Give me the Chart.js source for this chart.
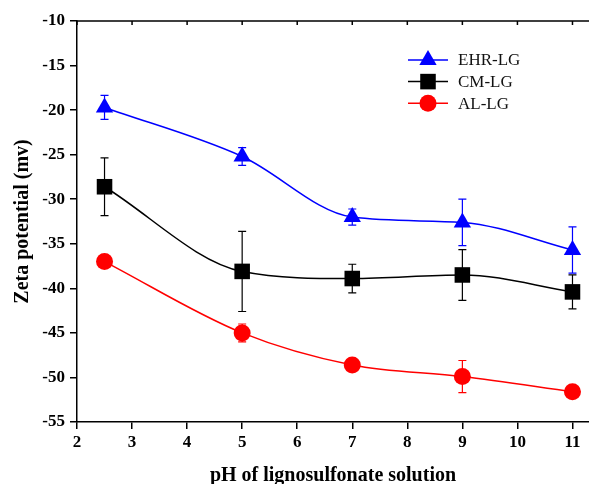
<!DOCTYPE html>
<html>
<head>
<meta charset="utf-8">
<title>Zeta potential</title>
<script src="https://cdn.jsdelivr.net/npm/chart.js@4/dist/chart.umd.min.js"></script>
<style>
  html, body { margin: 0; padding: 0; background: #fff; overflow: hidden; }
  #grafico { display: block; }
</style>
</head>
<body>
<canvas id="grafico" width="589" height="484"></canvas>
<script>
// valores
var phValores = [2.5, 5, 7, 9, 11];
var ehrLG = [-19.7, -25.2, -32.0, -32.6, -35.7];
var ehrErr = [1.35, 1.0, 0.9, 2.6, 2.6];
var cmLG = [-28.6, -38.1, -38.9, -38.5, -40.4];
var cmErr = [3.25, 4.5, 1.6, 2.85, 1.9];
var alLG = [-37.0, -45.0, -48.6, -49.9, -51.6];
var alErr = [0.3, 1.0, 0.3, 1.8, 0.3];
var xTicks = [2, 3, 4, 5, 6, 7, 8, 9, 10, 11];
var nombres = ['EHR-LG', 'CM-LG', 'AL-LG'];

var fuente = "'Liberation Serif', 'Times New Roman', serif";

function puntos(ys) {
  return phValores.map(function (x, i) { return { x: x, y: ys[i] }; });
}

// dibujar un marcador (para la leyenda)
function marcador(ctx, estilo, x, y, r, color) {
  ctx.save();
  ctx.fillStyle = color;
  ctx.beginPath();
  if (estilo === 'triangle') {
    var a = 0;
    ctx.moveTo(x + Math.sin(a) * r, y - Math.cos(a) * r);
    a += Math.PI * 2 / 3;
    ctx.lineTo(x + Math.sin(a) * r, y - Math.cos(a) * r);
    a += Math.PI * 2 / 3;
    ctx.lineTo(x + Math.sin(a) * r, y - Math.cos(a) * r);
    ctx.closePath();
  } else if (estilo === 'rect') {
    var s = Math.SQRT1_2 * r;
    ctx.rect(x - s, y - s, 2 * s, 2 * s);
  } else {
    ctx.arc(x, y, r, 0, Math.PI * 2);
  }
  ctx.fill();
  ctx.restore();
}

// barras de error
var barrasError = {
  id: 'barrasError',
  beforeDatasetsDraw: function (chart) {
    var ctx = chart.ctx;
    var xs = chart.scales.x, ys = chart.scales.y;
    chart.data.datasets.forEach(function (ds) {
      ctx.save();
      ctx.strokeStyle = ds.borderColor;
      ctx.lineWidth = 1.2;
      ds.data.forEach(function (p, j) {
        var e = ds.errores[j];
        var px = xs.getPixelForValue(p.x);
        var arriba = ys.getPixelForValue(p.y + e);
        var abajo = ys.getPixelForValue(p.y - e);
        ctx.beginPath();
        ctx.moveTo(px, arriba); ctx.lineTo(px, abajo);
        ctx.moveTo(px - 4, arriba); ctx.lineTo(px + 4, arriba);
        ctx.moveTo(px - 4, abajo); ctx.lineTo(px + 4, abajo);
        ctx.stroke();
      });
      ctx.restore();
    });
  },
  afterDraw: function (chart) {
    var ctx = chart.ctx;
    var area = chart.chartArea;
    var xs = chart.scales.x;
    // borde superior con marcas hacia adentro
    ctx.save();
    ctx.strokeStyle = '#000';
    ctx.lineWidth = 1.5;
    ctx.beginPath();
    ctx.moveTo(area.left, area.top);
    ctx.lineTo(area.right, area.top);
    xTicks.forEach(function (t) {
      var px = xs.getPixelForValue(t);
      ctx.moveTo(px, area.top);
      ctx.lineTo(px, area.top + 4);
    });
    ctx.stroke();

    // leyenda
    var x0 = area.left + 331, y0 = 60, paso = 21.6;
    chart.data.datasets.forEach(function (ds, i) {
      var y = y0 + i * paso;
      ctx.strokeStyle = ds.borderColor;
      ctx.lineWidth = 1.5;
      ctx.beginPath();
      ctx.moveTo(x0, y);
      ctx.lineTo(x0 + 40, y);
      ctx.stroke();
      marcador(ctx, ds.pointStyle, x0 + 20, y, ds.pointRadius, ds.backgroundColor);
      ctx.fillStyle = '#111';
      ctx.font = '17px ' + fuente;
      ctx.textBaseline = 'middle';
      ctx.fillText(ds.label, x0 + 50, y + 1);
    });
    ctx.restore();
  }
};

var datasets = [
  { label: nombres[0], data: puntos(ehrLG), errores: ehrErr, borderColor: '#0000ff', backgroundColor: '#0000ff', pointStyle: 'triangle', pointRadius: 10 },
  { label: nombres[1], data: puntos(cmLG), errores: cmErr, borderColor: '#000000', backgroundColor: '#000000', pointStyle: 'rect', pointRadius: 11 },
  { label: nombres[2], data: puntos(alLG), errores: alErr, borderColor: '#ff0000', backgroundColor: '#ff0000', pointStyle: 'circle', pointRadius: 8.5 }
];
datasets.forEach(function (ds) {
  ds.borderWidth = 1.5;
  ds.cubicInterpolationMode = 'monotone';
  ds.pointBorderWidth = 0;
  ds.pointHoverRadius = ds.pointRadius;
  ds.fill = false;
});

new Chart(document.getElementById('grafico').getContext('2d'), {
  type: 'line',
  data: { datasets: datasets },
  plugins: [barrasError],
  options: {
    responsive: false,
    animation: false,
    devicePixelRatio: 1,
    layout: { autoPadding: false, padding: { top: 21, right: 0, left: 0, bottom: 0 } },
    plugins: { legend: { display: false }, tooltip: { enabled: false } },
    scales: {
      x: {
        type: 'linear',
        min: 2,
        max: 11.3,
        afterFit: function (s) { s.height = 62; s.paddingLeft = 0; s.paddingRight = 0; },
        afterBuildTicks: function (s) { s.ticks = xTicks.map(function (v) { return { value: v }; }); },
        ticks: { stepSize: 1, includeBounds: false, color: '#000', padding: 3, font: { family: fuente, size: 17, weight: 'bold' } },
        grid: { drawOnChartArea: false, drawTicks: true, tickLength: 7, color: '#000', lineWidth: 1.5 },
        border: { color: '#000', width: 1.5 },
        title: { display: true, text: 'pH of lignosulfonate solution', color: '#000', padding: 0, font: { family: fuente, size: 20, weight: 'bold', lineHeight: 0.8 } }
      },
      y: {
        min: -55,
        max: -10,
        afterFit: function (s) { s.width = 77; s.paddingTop = 0; s.paddingBottom = 0; },
        ticks: { stepSize: 5, color: '#000', padding: 5, font: { family: fuente, size: 17, weight: 'bold' } },
        grid: { drawOnChartArea: false, drawTicks: true, tickLength: 7, color: '#000', lineWidth: 1.5 },
        border: { color: '#000', width: 1.5 },
        title: { display: true, text: 'Zeta potential (mv)', color: '#000', padding: { top: 12, bottom: 0 }, font: { family: fuente, size: 20, weight: 'bold', lineHeight: 1.1 } }
      }
    }
  }
});
</script>
</body>
</html>
